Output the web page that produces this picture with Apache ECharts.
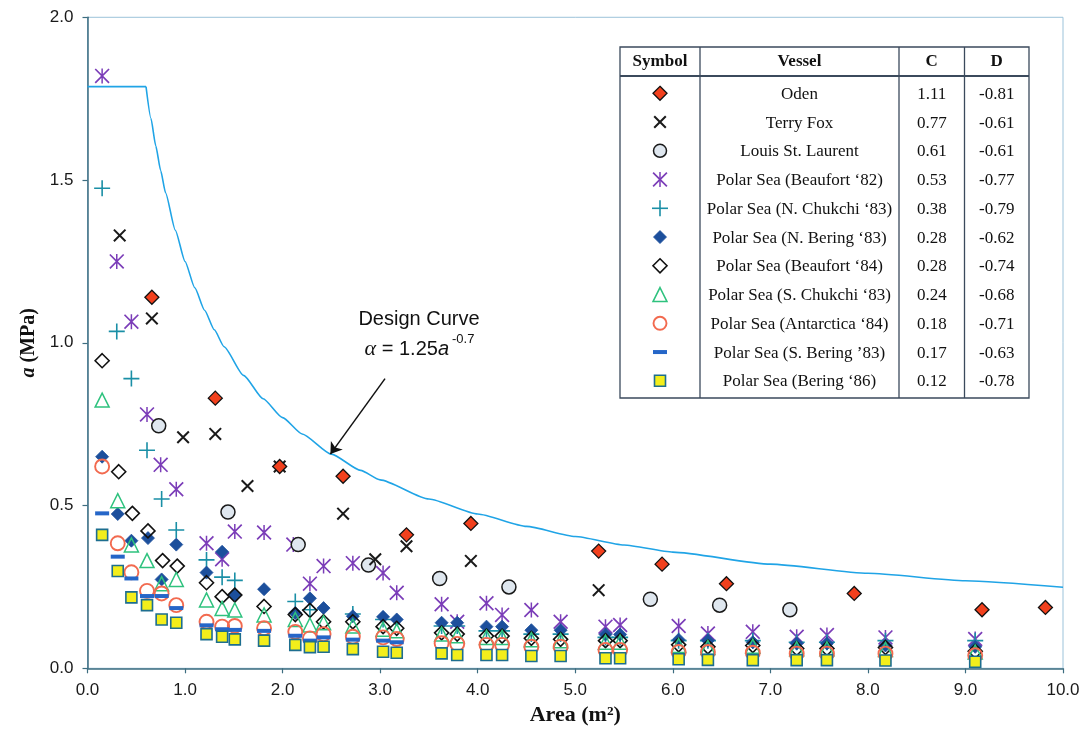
<!DOCTYPE html>
<html>
<head>
<meta charset="utf-8">
<title>Ice pressure vs. contact area</title>
<script src="https://cdn.jsdelivr.net/npm/echarts@6/dist/echarts.min.js"></script>
<style>
  html, body { margin: 0; padding: 0; background: #ffffff; }
  #chart { width: 1088px; height: 749px; }
</style>
</head>
<body>
<div id="chart"></div>
<script>
// ---- Measured pressure-area points, one list per vessel: [area m², pressure MPa] ----
const odenData = [[0.66,1.14],[1.31,0.83],[1.97,0.62],[2.62,0.59],[3.27,0.41],[3.93,0.445],[5.24,0.36],[5.89,0.32],[6.55,0.26],[7.86,0.23],[9.17,0.18],[9.82,0.187]];
const terryFoxData = [[0.33,1.33],[0.66,1.075],[0.98,0.71],[1.31,0.72],[1.64,0.56],[1.97,0.62],[2.62,0.475],[2.95,0.335],[3.27,0.375],[3.93,0.33],[5.24,0.24]];
const stLaurentData = [[0.73,0.745],[1.44,0.48],[2.16,0.38],[2.88,0.317],[3.61,0.276],[4.32,0.25],[5.77,0.212],[6.48,0.194],[7.20,0.18]];
const beaufort82Data = [[0.15,1.82],[0.30,1.25],[0.45,1.065],[0.61,0.78],[0.75,0.625],[0.91,0.55],[1.22,0.384],[1.38,0.335],[1.51,0.42],[1.81,0.417],[2.11,0.38],[2.28,0.26],[2.42,0.314],[2.72,0.323],[3.03,0.293],[3.17,0.232],[3.63,0.197],[3.79,0.143],[4.09,0.200],[4.25,0.164],[4.55,0.179],[4.85,0.143],[5.31,0.128],[5.46,0.133],[6.06,0.130],[6.36,0.107],[6.82,0.112],[7.27,0.097],[7.58,0.102],[8.18,0.095],[9.10,0.090]];
const nChukchiData = [[0.15,1.475],[0.30,1.035],[0.45,0.89],[0.61,0.67],[0.76,0.52],[0.91,0.425],[1.22,0.333],[1.38,0.28],[1.51,0.27],[2.13,0.205],[2.28,0.18],[2.72,0.167],[3.03,0.15],[3.63,0.13],[3.79,0.13],[4.09,0.115],[4.25,0.115],[4.55,0.105],[4.85,0.105],[5.31,0.095],[5.46,0.095],[6.06,0.085],[6.36,0.085],[6.82,0.085],[7.27,0.08],[7.58,0.08],[8.18,0.085],[9.10,0.085]];
const nBeringData = [[0.15,0.65],[0.31,0.474],[0.45,0.392],[0.62,0.40],[0.76,0.273],[0.91,0.38],[1.22,0.294],[1.38,0.358],[1.51,0.225],[1.81,0.243],[2.13,0.17],[2.28,0.215],[2.42,0.185],[2.72,0.16],[3.03,0.158],[3.17,0.15],[3.63,0.14],[3.79,0.14],[4.09,0.128],[4.25,0.128],[4.55,0.117],[4.85,0.117],[5.31,0.104],[5.46,0.104],[6.06,0.088],[6.36,0.085],[6.82,0.08],[7.27,0.076],[7.58,0.076],[8.18,0.07],[9.10,0.066]];
const beaufort84Data = [[0.15,0.945],[0.32,0.604],[0.46,0.476],[0.62,0.422],[0.77,0.331],[0.92,0.314],[1.22,0.263],[1.38,0.22],[1.51,0.225],[1.81,0.19],[2.13,0.165],[2.28,0.178],[2.42,0.143],[2.72,0.143],[3.03,0.128],[3.17,0.123],[3.63,0.109],[3.79,0.105],[4.09,0.099],[4.25,0.099],[4.55,0.092],[4.85,0.089],[5.31,0.085],[5.46,0.085],[6.06,0.072],[6.36,0.066],[6.82,0.07],[7.27,0.061],[7.58,0.061],[8.18,0.064],[9.10,0.052]];
const sChukchiData = [[0.15,0.824],[0.31,0.515],[0.45,0.379],[0.61,0.331],[0.76,0.26],[0.91,0.273],[1.22,0.21],[1.38,0.184],[1.51,0.179],[1.81,0.164],[2.13,0.15],[2.28,0.133],[2.42,0.14],[2.72,0.13],[3.03,0.12],[3.17,0.115],[3.63,0.105],[3.79,0.1],[4.09,0.095],[4.25,0.095],[4.55,0.088],[4.85,0.085],[5.31,0.08],[5.46,0.08],[6.06,0.07],[6.36,0.064],[6.82,0.068],[7.27,0.06],[7.58,0.06],[8.18,0.058],[9.10,0.05]];
const antarcticaData = [[0.15,0.62],[0.31,0.384],[0.45,0.295],[0.61,0.238],[0.76,0.23],[0.91,0.194],[1.22,0.143],[1.38,0.128],[1.51,0.13],[1.81,0.123],[2.13,0.112],[2.28,0.092],[2.42,0.105],[2.72,0.097],[3.03,0.095],[3.17,0.09],[3.63,0.077],[3.79,0.075],[4.09,0.072],[4.25,0.072],[4.55,0.066],[4.85,0.066],[5.31,0.056],[5.46,0.056],[6.06,0.05],[6.36,0.05],[6.82,0.048],[7.27,0.045],[7.58,0.045],[8.18,0.045],[9.10,0.04]];
const sBeringData = [[0.15,0.476],[0.31,0.343],[0.45,0.276],[0.61,0.222],[0.76,0.222],[0.91,0.185],[1.22,0.132],[1.38,0.12],[1.51,0.118],[1.81,0.115],[2.13,0.1],[2.28,0.085],[2.42,0.095],[2.72,0.088],[3.03,0.085],[3.17,0.08]];
const bering86Data = [[0.15,0.41],[0.31,0.299],[0.45,0.218],[0.61,0.194],[0.76,0.15],[0.91,0.14],[1.22,0.105],[1.38,0.097],[1.51,0.089],[1.81,0.085],[2.13,0.072],[2.28,0.065],[2.42,0.066],[2.72,0.059],[3.03,0.051],[3.17,0.048],[3.63,0.046],[3.79,0.041],[4.09,0.041],[4.25,0.041],[4.55,0.038],[4.85,0.038],[5.31,0.031],[5.46,0.031],[6.06,0.028],[6.36,0.026],[6.82,0.025],[7.27,0.025],[7.58,0.025],[8.18,0.024],[9.10,0.02]];

// ---- Design curve: flat cap at 1.79 MPa, then the power-law branch ----
const capArea    = [0, 0.6];
const capStress  = [1.787, 1.787];
const curveArea   = [0.6, 0.65, 0.7, 0.75, 0.8, 0.9, 1.0, 1.1, 1.2, 1.3, 1.4, 1.6, 1.8, 2.0, 2.2, 2.5, 2.8, 3.0, 3.5, 4.0, 4.5, 5.0, 5.5, 6.0, 7.0, 8.0, 9.0, 10.0];
const curveStress = [1.787, 1.690, 1.605, 1.529, 1.461, 1.346, 1.250, 1.169, 1.100, 1.040, 0.988, 0.900, 0.828, 0.770, 0.720, 0.658, 0.608, 0.579, 0.520, 0.474, 0.436, 0.405, 0.379, 0.357, 0.320, 0.292, 0.269, 0.249];

// ---- Key table contents ----
const vesselNames = ['Oden', 'Terry Fox', 'Louis St. Laurent', 'Polar Sea (Beaufort \u201882)', 'Polar Sea (N. Chukchi \u201883)', 'Polar Sea (N. Bering \u201883)', 'Polar Sea (Beaufort \u201884)', 'Polar Sea (S. Chukchi \u201883)', 'Polar Sea (Antarctica \u201884)', 'Polar Sea (S. Bering \u201983)', 'Polar Sea (Bering \u201886)'];
const cValues = ['1.11', '0.77', '0.61', '0.53', '0.38', '0.28', '0.28', '0.24', '0.18', '0.17', '0.12'];
const dValues = ['-0.81', '-0.61', '-0.61', '-0.77', '-0.79', '-0.62', '-0.74', '-0.68', '-0.71', '-0.63', '-0.78'];
const xTicks = [0, 1, 2, 3, 4, 5, 6, 7, 8, 9, 10];
const yTicks = [0, 0.5, 1.0, 1.5, 2.0];

// ---- Marker shapes: filled polygons in a 20x20 box ----
const SHAPES = {
  cross: [[[0,2.2],[2.2,0],[20,17.8],[17.8,20]], [[17.8,0],[20,2.2],[2.2,20],[0,17.8]]],
  star:  [[[9,0],[11,0],[11,20],[9,20]], [[0,1.6],[1.6,0],[20,18.4],[18.4,20]], [[18.4,0],[20,1.6],[1.6,20],[0,18.4]]],
  plus:  [[[9,0],[11,0],[11,20],[9,20]], [[0,9],[20,9],[20,11],[0,11]]]
};
function shapePath(polys) {
  return 'path://' + polys.map(p => 'M' + p.map(q => q[0] + ',' + q[1]).join('L') + 'Z').join(' ');
}
const CLEAR = 'rgba(0,0,0,0)';

// one style entry per vessel, in key order
const styles = [
  { data: odenData,       shape: 'diamond',  size: 14, fill: '#f2401d', stroke: '#111111', lw: 1.3, z: 6 },
  { data: terryFoxData,   shape: 'cross',    size: 13, fill: '#1a1a1a', stroke: null,      lw: 0,   z: 5 },
  { data: stLaurentData,  shape: 'circle',   size: 14, fill: '#dfe7ef', stroke: '#1a1a1a', lw: 1.5, z: 4 },
  { data: beaufort82Data, shape: 'star',     size: 15, fill: '#7b3db8', stroke: null,      lw: 0,   z: 3 },
  { data: nChukchiData,   shape: 'plus',     size: 16, fill: '#1a8fa6', stroke: null,      lw: 0,   z: 3 },
  { data: nBeringData,    shape: 'diamond',  size: 13, fill: '#1c4f9c', stroke: '#1c4f9c', lw: 0.8, z: 3 },
  { data: beaufort84Data, shape: 'diamond',  size: 14, fill: CLEAR,     stroke: '#111111', lw: 1.6, z: 3 },
  { data: sChukchiData,   shape: 'triangle', size: 14, fill: CLEAR,     stroke: '#2ec27e', lw: 1.5, z: 3 },
  { data: antarcticaData, shape: 'circle',   size: 14, fill: CLEAR,     stroke: '#f26a4f', lw: 1.9, z: 3 },
  { data: sBeringData,    shape: 'dash',     size: [14, 4], fill: '#2566c8', stroke: null, lw: 0,   z: 3 },
  { data: bering86Data,   shape: 'square',   size: 11, fill: '#f3ee1b', stroke: '#1d6e8f', lw: 1.6, z: 3 }
];

function echartsSymbol(shape) {
  if (SHAPES[shape]) return shapePath(SHAPES[shape]);
  if (shape === 'dash' || shape === 'square') return 'rect';
  return shape;
}

const scatterSeries = styles.map((s, i) => ({
  name: vesselNames[i],
  type: 'scatter',
  data: s.data,
  symbol: echartsSymbol(s.shape),
  symbolSize: s.size,
  z: s.z,
  silent: true,
  itemStyle: {
    color: s.fill,
    borderColor: s.stroke || s.fill,
    borderWidth: s.lw,
    opacity: 1
  }
}));

const curveLine = { color: '#20a4e6', width: 1.6 };
const capSeries = {
  name: 'Design Curve cap',
  type: 'line',
  data: capArea.map((a, i) => [a, capStress[i]]),
  showSymbol: false, symbol: 'none', z: 2, silent: true,
  lineStyle: curveLine
};
const designSeries = {
  name: 'Design Curve',
  type: 'line',
  data: curveArea.map((a, i) => [a, curveStress[i]]),
  showSymbol: false, symbol: 'none',
  smooth: 0.2, smoothMonotone: 'x',
  z: 2, silent: true,
  lineStyle: curveLine,
  markLine: {
    silent: true,
    symbol: ['none', 'arrow'],
    symbolSize: 11,
    label: { show: false },
    lineStyle: { color: '#111111', width: 1.5, type: 'solid' },
    data: [[{ coord: [3.05, 0.89] }, { coord: [2.49, 0.658] }]]
  }
};

// ---- Key table drawn as graphic elements ----
const SERIF = "'Liberation Serif', 'Times New Roman', serif";
const SANS = "'Liberation Sans', Arial, sans-serif";
const T = { left: 620, right: 1029, top: 47, bottom: 398, cols: [700, 899, 964.5], head: 76, row0: 93.3, step: 28.75 };
const tableLine = '#3b4a5c';

function txt(text, x, y, opts) {
  return {
    type: 'text', silent: true, z: 20,
    style: Object.assign({
      text: text, x: x, y: y,
      fontFamily: SERIF, fontSize: 17, fill: '#111111',
      align: 'center', verticalAlign: 'middle',
      textAlign: 'center', textVerticalAlign: 'middle'
    }, opts || {})
  };
}

function keySymbol(s, cx, cy) {
  const fill = s.fill, stroke = s.stroke, lw = s.lw;
  if (SHAPES[s.shape]) {
    const k = s.size / 20;
    return {
      type: 'group', silent: true, z: 20,
      children: SHAPES[s.shape].map(poly => ({
        type: 'polygon', silent: true, z: 20,
        shape: { points: poly.map(q => [cx - s.size / 2 + q[0] * k, cy - s.size / 2 + q[1] * k]) },
        style: { fill: fill }
      }))
    };
  }
  if (s.shape === 'diamond') {
    const h = s.size / 2;
    return { type: 'polygon', silent: true, z: 20,
      shape: { points: [[cx, cy - h], [cx + h, cy], [cx, cy + h], [cx - h, cy]] },
      style: { fill: fill, stroke: stroke, lineWidth: lw } };
  }
  if (s.shape === 'circle') {
    return { type: 'circle', silent: true, z: 20,
      shape: { cx: cx, cy: cy, r: s.size / 2 - 0.5 },
      style: { fill: fill, stroke: stroke, lineWidth: lw } };
  }
  if (s.shape === 'triangle') {
    const h = s.size / 2;
    return { type: 'polygon', silent: true, z: 20,
      shape: { points: [[cx, cy - h], [cx + h, cy + h], [cx - h, cy + h]] },
      style: { fill: fill, stroke: stroke, lineWidth: lw } };
  }
  const w = Array.isArray(s.size) ? s.size[0] : s.size;
  const h = Array.isArray(s.size) ? s.size[1] : s.size;
  const st = { fill: fill, lineWidth: lw };
  if (stroke) st.stroke = stroke;
  return { type: 'rect', silent: true, z: 20,
    shape: { x: cx - w / 2, y: cy - h / 2, width: w, height: h }, style: st };
}

const graphics = [];
graphics.push({ type: 'rect', silent: true, z: 19,
  shape: { x: T.left, y: T.top, width: T.right - T.left, height: T.bottom - T.top },
  style: { fill: '#ffffff', stroke: tableLine, lineWidth: 1.3 } });
T.cols.forEach(x => graphics.push({ type: 'line', silent: true, z: 20,
  shape: { x1: x, y1: T.top, x2: x, y2: T.bottom }, style: { stroke: tableLine, lineWidth: 1.3 } }));
graphics.push({ type: 'line', silent: true, z: 20,
  shape: { x1: T.left, y1: T.head, x2: T.right, y2: T.head }, style: { stroke: tableLine, lineWidth: 2.2 } });

const colCenters = [(T.left + T.cols[0]) / 2, (T.cols[0] + T.cols[1]) / 2, (T.cols[1] + T.cols[2]) / 2, (T.cols[2] + T.right) / 2];
const headY = (T.top + T.head) / 2 + 0.5;
['Symbol', 'Vessel', 'C', 'D'].forEach((h, i) => graphics.push(txt(h, colCenters[i], headY, { fontWeight: 'bold' })));

vesselNames.forEach((name, i) => {
  const y = T.row0 + i * T.step;
  graphics.push(keySymbol(styles[i], colCenters[0], y));
  graphics.push(txt(name, colCenters[1], y + 1));
  graphics.push(txt(cValues[i], colCenters[2], y + 1));
  graphics.push(txt(dValues[i], colCenters[3], y + 1));
});

// design curve caption
graphics.push(txt('Design Curve', 419, 319, { fontFamily: SANS, fontSize: 20 }));
graphics.push(txt('{g|\u03b1} = 1.25{i|a}', 449, 349, {
  fontFamily: SANS, fontSize: 20, align: 'right', textAlign: 'right',
  rich: {
    g: { fontFamily: SERIF, fontStyle: 'italic', fontSize: 22, fill: '#111111' },
    i: { fontFamily: SANS, fontStyle: 'italic', fontSize: 20, fill: '#111111' }
  }
}));
graphics.push(txt('-0.7', 452, 339, { fontFamily: SANS, fontSize: 13, align: 'left', textAlign: 'left' }));

const axisColor = '#3d6d80';

const option = {
  backgroundColor: '#ffffff',
  animation: false,
  grid: {
    left: 87.5, right: 25, top: 17.3, bottom: 80.7,
    show: true, borderColor: '#9cc3da', borderWidth: 1, backgroundColor: 'transparent'
  },
  xAxis: {
    type: 'value', min: xTicks[0], max: xTicks[xTicks.length - 1], interval: 1,
    name: 'Area (m\u00b2)', nameLocation: 'middle', nameGap: 33,
    nameTextStyle: { fontFamily: SERIF, fontWeight: 'bold', fontSize: 22, color: '#111111' },
    axisLine: { show: true, onZero: false, lineStyle: { color: axisColor, width: 1.5 } },
    axisTick: { show: true, inside: false, length: 5, lineStyle: { color: axisColor, width: 1.2 } },
    axisLabel: { margin: 14, fontFamily: SANS, fontSize: 17, color: '#1a1a1a', formatter: v => v.toFixed(1) },
    splitLine: { show: false }
  },
  yAxis: {
    type: 'value', min: yTicks[0], max: yTicks[yTicks.length - 1], interval: 0.5,
    name: '{i|a} (MPa)', nameLocation: 'middle', nameGap: 36, nameRotate: 90,
    nameTextStyle: {
      fontFamily: SERIF, fontWeight: 'bold', fontSize: 20, color: '#111111',
      rich: { i: { fontFamily: SERIF, fontWeight: 'bold', fontStyle: 'italic', fontSize: 20, color: '#111111' } }
    },
    axisLine: { show: true, onZero: false, lineStyle: { color: axisColor, width: 1.5 } },
    axisTick: { show: true, inside: false, length: 5, lineStyle: { color: axisColor, width: 1.2 } },
    axisLabel: { margin: 14, fontFamily: SANS, fontSize: 17, color: '#1a1a1a', formatter: v => v.toFixed(1) },
    splitLine: { show: false }
  },
  series: [capSeries, designSeries].concat(scatterSeries),
  graphic: { elements: graphics }
};

const chart = echarts.init(document.getElementById('chart'), null, { renderer: 'canvas' });
chart.setOption(option);
</script>
</body>
</html>
